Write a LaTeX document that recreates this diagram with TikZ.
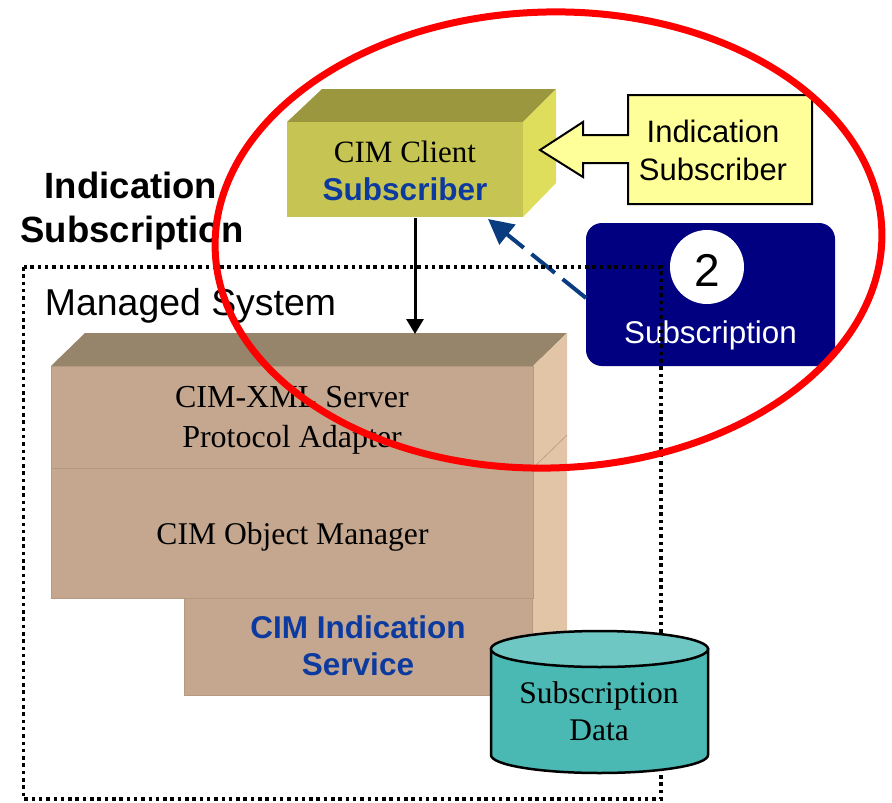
\documentclass[tikz,border=0pt]{standalone}
\usepackage{fontspec}
\setmainfont{Liberation Serif}
\setsansfont{Liberation Sans}
\usetikzlibrary{arrows.meta}
\definecolor{ylwfront}{HTML}{C6C452}
\definecolor{ylwtop}{HTML}{9A973E}
\definecolor{ylwside}{HTML}{DFDD5C}
\definecolor{brfront}{HTML}{C4A78E}
\definecolor{brtop}{HTML}{96846B}
\definecolor{brside}{HTML}{E2C5A7}
\definecolor{brline}{HTML}{B39A80}
\definecolor{txtblue}{HTML}{0D3A9E}
\definecolor{navybox}{HTML}{000080}
\definecolor{callfill}{HTML}{FFFF99}
\definecolor{cyltop}{HTML}{6FC7C3}
\definecolor{cylbody}{HTML}{4AB8B3}
\definecolor{arrowblue}{HTML}{0A3C80}
\newcommand\fsz[1]{\fontsize{#1}{#1}\selectfont}
\begin{document}
\begin{tikzpicture}[x=1pt,y=-1pt,
  txt/.style={anchor=base, inner sep=0pt, outer sep=0pt},
  face/.style={anchor=north west, inner sep=0pt, outer sep=0pt},
  brface/.style={face, fill=brfront, draw=brline, line width=1pt},
  serif31/.style={font=\rmfamily\fsz{31.5}},
  sans31/.style={font=\sffamily\fsz{31}},
  bsans31/.style={font=\sffamily\bfseries\fsz{31.5}}]
\useasboundingbox (0,0) rectangle (892,803);

% ---- brown stack ----
\fill[brtop] (51,366) -- (85,333) -- (567,333) -- (533,366) -- cycle;
\fill[brside] (533,366) -- (567,333) -- (567,662) -- (532,695) -- cycle;
\draw[brline, line width=0.6pt] (533,468) -- (567,435);
\node[brface, minimum width=482pt, minimum height=102pt] (xmlbox) at (51,366) {};
\node[brface, minimum width=482pt, minimum height=130pt] (omgr) at (51,468) {};
\node[brface, minimum width=348pt, minimum height=97pt] (indsvc) at (184,598) {};
\node[txt, font=\rmfamily\fsz{32}] (xml1) at (292,407) {CIM-XML Server};
\node[txt, font=\rmfamily\fsz{32}] (xml2) at (292,447) {Protocol Adapter};
\node[txt, font=\rmfamily\fsz{31.6}] (omtxt) at (292.5,544) {CIM Object Manager};
\node[txt, bsans31, text=txtblue] (ind1) at (358,638) {CIM Indication};
\node[txt, bsans31, text=txtblue] (ind2) at (358,675) {Service};

% ---- CIM client box ----
\fill[ylwtop] (287,122) -- (322,89) -- (556,89) -- (523,122) -- cycle;
\fill[ylwside] (523,122) -- (556,89) -- (556,183) -- (523,217) -- cycle;
\node[face, fill=ylwfront, minimum width=236pt, minimum height=95pt] (client) at (287,122) {};
\node[txt, font=\rmfamily\fsz{31}] (cl1) at (405,162) {CIM Client};
\node[txt, bsans31, text=txtblue] (cl2) at (405,200) {Subscriber};

% ---- black arrow ----
\coordinate (aout) at (415,218);
\coordinate (ain) at (415,334);
\draw[line width=3pt, -{Triangle[length=15pt,width=17pt]}] (aout) -- (ain);

% ---- callout ----
\draw[fill=callfill, line width=2pt, line join=miter]
  (628,95) -- (812,95) -- (812,204) -- (628,204) -- (628,163) -- (583,163)
  -- (583,177) -- (540,150) -- (583,122) -- (583,135) -- (628,135) -- cycle;
\node[txt, sans31] (co1) at (713,142) {Indication};
\node[txt, sans31] (co2) at (713,180) {Subscriber};

% ---- subscription box ----
\node[face, fill=navybox, rounded corners=16pt, minimum width=249pt, minimum height=143pt] (subbox) at (586,223) {};
\node[circle, fill=white, minimum size=74pt, inner sep=0pt] (numc) at (707,267) {};
\node[txt, font=\sffamily\fsz{46}] (num) at (707,286) {2};
\node[txt, font=\sffamily\fsz{31.4}, text=white] (subtxt) at (710.5,343) {Subscription};

% ---- dashed arrow ----
\coordinate (dstart) at (586,298);
\coordinate (dend) at (488,219);
\draw[arrowblue, line width=4pt, dash pattern=on 30pt off 10pt,
  -{Triangle[length=25pt,width=25pt]}] (dstart) -- (dend);

% ---- dotted managed system frame ----
\draw[line width=3.5pt, dash pattern=on 3.5pt off 3.8pt] (23.5,267) rectangle (661,799);
\node[txt, anchor=base west, font=\sffamily\fsz{37.4}] (msys) at (45,315) {Managed System};

% ---- title ----
\node[txt, font=\sffamily\bfseries\fsz{36.5}] (ti1) at (131,198) {Indication};
\node[txt, font=\sffamily\bfseries\fsz{36.5}] (ti2) at (132,242) {Subscription};

% ---- cylinder ----
\draw[fill=cylbody, line width=2.5pt] (491,649) -- (491,755)
  arc[start angle=180, end angle=360, x radius=108.5pt, y radius=18pt] -- (708,649) -- cycle;
\draw[fill=cyltop, line width=2.5pt] (599.5,649) ellipse[x radius=108.5pt, y radius=18pt];
\node[txt, font=\rmfamily\fsz{31.5}] (db1) at (599,703) {Subscription};
\node[txt, font=\rmfamily\fsz{31.5}] (db2) at (599,740) {Data};

% ---- red ellipse ----
\draw[red, line width=7pt, rotate around={1.6:(548.5,240)}] (548.5,240) ellipse[x radius=333.5pt, y radius=228pt];
\end{tikzpicture}
\end{document}
